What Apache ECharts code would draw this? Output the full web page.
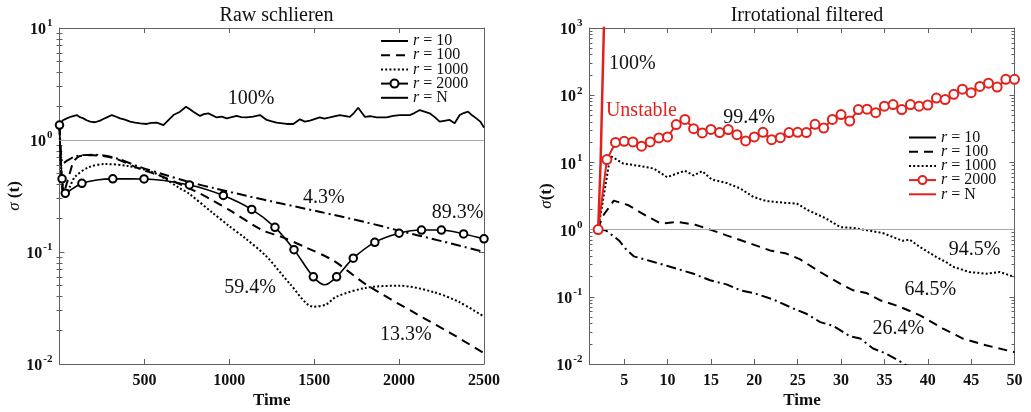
<!DOCTYPE html>
<html>
<head>
<meta charset="utf-8">
<script src="https://cdn.jsdelivr.net/npm/echarts@6/dist/echarts.min.js"></script>
<style>
html,body{margin:0;padding:0;background:#fff;}
#chart{width:1031px;height:412px;}
</style>
</head>
<body>
<div id="chart"></div>
<script>
// ---------------- DATA ----------------
const titles = ['Raw schlieren', 'Irrotational filtered'];
const legendNames = ['r = 10', 'r = 100', 'r = 1000', 'r = 2000', 'r = N'];
const xTicksRaw = [500, 1000, 1500, 2000, 2500];
const xTicksIrr = [5, 10, 15, 20, 25, 30, 35, 40, 45, 50];

// Left panel: Raw schlieren
const rawN_t = [0,20,43,70,102,120,141,160,181,210,239,270,308,330,357,385,416,445,475,514,540,573,612,640,671,710,745,768,788,828,850,877,926,955,985,1043,1070,1102,1140,1181,1220,1250,1279,1338,1377,1416,1445,1475,1533,1560,1592,1651,1710,1735,1759,1798,1830,1867,1926,1965,2004,2063,2090,2122,2180,2210,2239,2298,2327,2357,2380,2406,2430,2455,2480,2500];
const rawN_v = [1.36,1.50,1.56,1.62,1.67,1.60,1.56,1.50,1.46,1.44,1.49,1.57,1.67,1.62,1.56,1.52,1.46,1.43,1.41,1.39,1.42,1.43,1.36,1.50,1.67,1.79,1.98,1.88,1.79,1.64,1.70,1.73,1.59,1.62,1.56,1.64,1.60,1.59,1.62,1.67,1.51,1.47,1.43,1.39,1.39,1.53,1.46,1.49,1.59,1.55,1.59,1.67,1.61,1.75,1.94,1.61,1.63,1.59,1.59,1.64,1.67,1.67,1.74,1.85,1.73,1.60,1.46,1.51,1.41,1.67,1.74,1.79,1.66,1.56,1.45,1.29];

const raw10_t = [0,8,20,50,100,200,330,465,620,765,916,1100,1300,1530,1800,2000,2250,2500];
const raw10_v = [1.36,0.8,0.62,0.66,0.72,0.74,0.69,0.58,0.49,0.42,0.37,0.318,0.272,0.229,0.185,0.155,0.125,0.10];

const raw100_t = [0,8,22,45,63,83,120,200,330,465,622,798,900,1004,1200,1300,1450,1612,1808,2102,2300,2500];
const raw100_v = [1.36,0.6,0.33,0.42,0.52,0.64,0.72,0.73,0.68,0.56,0.46,0.35,0.29,0.235,0.155,0.138,0.11,0.084,0.051,0.028,0.019,0.0125];

const raw1000_t = [0,10,34,60,92,171,269,406,563,710,759,900,1000,1093,1220,1357,1495,1570,1632,1808,2004,2200,2350,2500];
const raw1000_v = [1.36,0.55,0.32,0.38,0.47,0.57,0.61,0.585,0.505,0.37,0.335,0.225,0.17,0.133,0.091,0.052,0.0325,0.034,0.04,0.048,0.05,0.044,0.036,0.0265];

const raw2000_t = [0,15,34,80,132,220,314,498,765,965,1132,1269,1381,1495,1563,1632,1730,1857,2000,2132,2249,2380,2500];
const raw2000_v = [1.36,0.45,0.334,0.37,0.41,0.44,0.45,0.449,0.397,0.32,0.24,0.166,0.105,0.06,0.051,0.06,0.088,0.122,0.147,0.157,0.157,0.145,0.131];
const raw2000_markerT = [0,15,34,132,314,498,765,965,1132,1269,1381,1495,1632,1730,1857,2000,2132,2249,2380,2500];

const rawNotes = ['100%','4.3%','89.3%','59.4%','13.3%'];
const rawNotes_t = [1128,1557,2345,1122,2040];
const rawNotes_v = [2.32,0.303,0.223,0.0478,0.0181];

// Right panel: Irrotational filtered
const irrN_t = [2,2.28,2.5,2.66,2.8];
const irrN_v = [1,10,150,1000,3000];

const irr10_t = [2,2.85,4.4,5.15,6.1,8.4,10.3,13,14.9,16.8,18.4,19.9,22.2,24.5,26,27.6,29.1,31,32.2,33.7,35.2,37.3,38];
const irr10_v = [1,0.98,0.69,0.52,0.40,0.33,0.28,0.22,0.176,0.153,0.125,0.114,0.091,0.067,0.056,0.042,0.037,0.026,0.024,0.017,0.0143,0.01,0.0085];

const irr100_t = [2,2.46,3.8,5.5,7.45,9.2,11.1,13.2,14.9,16.8,19.1,21.8,23.7,25.3,27.6,29.9,31.4,32.9,34.5,36.8,39.1,41.7,44,46.7,50];
const irr100_v = [1,1.54,2.7,2.3,1.63,1.23,1.3,1.18,1.0,0.82,0.65,0.49,0.44,0.36,0.234,0.157,0.125,0.114,0.089,0.071,0.053,0.034,0.024,0.019,0.015];

const irr1000_t = [2,3.4,4.9,6.9,8.4,9.94,12,13,14,15.1,16.8,18.4,19.9,21.4,23.7,24.9,26.2,28.3,29.9,31.4,34.8,37.1,37.9,39.1,41,42.1,42.9,44.8,46.7,48.3,50];
const irr1000_v = [1,12.5,9.6,8.8,8.1,6.05,7.5,6.4,7.4,5.55,4.95,4.08,3.06,2.66,2.49,2.44,1.94,1.46,1.09,1.06,0.89,0.68,0.71,0.55,0.39,0.33,0.28,0.234,0.22,0.234,0.197];

const irr2000_t = [2,3,4,5,6,7,8,9,10,11,12,13,14,15,16,17,18,19,20,21,22,23,24,25,26,27,28,29,30,31,32,33,34,35,36,37,38,39,40,41,42,43,44,45,46,47,48,49,50];
const irr2000_v = [1,11.0,19.8,20.6,20.2,17.4,20.2,23.1,23.9,36.6,43.6,31.8,27.4,31.0,27.8,30.8,25.9,20.9,23.9,28.0,21.8,23.3,27.8,28.0,27.8,36.9,32.5,43.6,51.5,41.3,61.1,61.9,55.0,68.6,72.5,61.1,72.5,68.6,71.5,90.8,86.0,103,123,109,135,151,132,172,172];

const irrNotes = ['100%','Unstable','99.4%','94.5%','64.5%','26.4%'];
const irrNotes_t = [5.95,6.99,19.4,45.4,40.3,36.6];
const irrNotes_v = [298,59.6,46.9,0.509,0.129,0.034];

// ---------------- STYLE / BUILD ----------------
const FONT = '"Liberation Serif", "Times New Roman", serif';
const RED = '#e3211c';
const AXC = '#606060';
const DASHDOT = [10,4,2,4];
const DASH = [9,6];
const DOT = [2,2.2];

const zip = (t, v) => t.map((x, i) => [x, v[i]]);

// minor log ticks (2..9 x 10^k) inside [lo, hi]
function minorLogTicks(lo, hi) {
  const out = [];
  for (let k = Math.round(Math.log10(lo)); k < Math.round(Math.log10(hi)); k++) {
    for (let m = 2; m <= 9; m++) out.push(+(m * Math.pow(10, k)).toPrecision(3));
  }
  return out;
}

function supLabel(v) {
  const e = Math.round(Math.log10(v));
  return '{b|10}{e|' + e + '}';
}
const yRich = {
  b: {fontFamily: FONT, fontWeight: 'bold', fontSize: 16, color: '#111', lineHeight: 20, verticalAlign: 'bottom'},
  e: {fontFamily: FONT, fontWeight: 'bold', fontSize: 11, color: '#111', lineHeight: 20, verticalAlign: 'top', padding: [0,0,0,1]}
};

function legendFmt(name) {
  const base = name.split(' (')[0];
  return '{i|r}{n|' + base.slice(1) + '}';
}
const legendRich = {
  i: {fontFamily: FONT, fontStyle: 'italic', fontSize: 16, color: '#111', lineHeight: 14},
  n: {fontFamily: FONT, fontSize: 16, color: '#111', lineHeight: 14}
};

const grids = [
  {left: 59.5, right: 547, top: 28, bottom: 48, containLabel: false, outerBoundsMode: 'none'},
  {left: 589.5, right: 16.5, top: 28, bottom: 48, containLabel: false, outerBoundsMode: 'none'}
];

function xAx(gi, min, max, ticks, top) {
  const o = {
    type: 'value', gridIndex: gi, min: min, max: max,
    position: top ? 'top' : 'bottom',
    axisLine: {show: true, onZero: false, lineStyle: {color: AXC, width: 1}},
    axisTick: {show: true, inside: true, length: 5, customValues: ticks, lineStyle: {color: AXC}},
    axisLabel: {show: !top, customValues: ticks, formatter: v => String(v),
      fontFamily: FONT, fontWeight: 'bold', fontSize: 16, color: '#111', margin: 9},
    splitLine: {show: false}
  };
  if (!top) {
    o.name = 'Time';
    o.nameLocation = 'middle';
    o.nameGap = 28;
    o.nameMoveOverlap = false;
    o.nameTextStyle = {fontFamily: FONT, fontWeight: 'bold', fontSize: 17, color: '#111'};
  }
  return o;
}
function yAx(gi, min, max, right, name, gap) {
  const o = {
    type: 'log', logBase: 10, gridIndex: gi, min: min, max: max,
    position: right ? 'right' : 'left',
    axisLine: {show: true, onZero: false, lineStyle: {color: AXC, width: 1}},
    axisTick: {show: true, inside: true, length: 5, lineStyle: {color: AXC}},
    axisLabel: {show: !right, formatter: supLabel, rich: yRich, margin: 7},
    splitLine: {show: false}
  };
  if (!right) {
    o.name = name;
    o.nameLocation = 'middle';
    o.nameGap = gap;
    o.nameMoveOverlap = false;
    o.nameTextStyle = {
      fontFamily: FONT, fontSize: 17, color: '#111',
      rich: {
        s: {fontFamily: FONT, fontStyle: 'italic', fontSize: 17, color: '#111'},
        t: {fontFamily: FONT, fontWeight: 'bold', fontSize: 17, color: '#111'}
      }
    };
  }
  return o;
}
function yMinorAx(gi, min, max, right) {
  return {
    type: 'log', logBase: 10, gridIndex: gi, min: min, max: max,
    position: right ? 'right' : 'left', offset: 0,
    axisLine: {show: false},
    axisTick: {show: true, inside: true, length: 3, customValues: minorLogTicks(min, max), lineStyle: {color: AXC}},
    axisLabel: {show: false},
    splitLine: {show: false}
  };
}

function lineSeries(name, xi, yi, data, color, width, type, smooth, extra) {
  return Object.assign({
    name: name, type: 'line', xAxisIndex: xi, yAxisIndex: yi,
    data: data, symbol: 'none', smooth: smooth, clip: true,
    lineStyle: {color: color, width: width, type: type},
    itemStyle: {color: color},
    emphasis: {disabled: true}, animation: false
  }, extra || {});
}

function noteSeries(xi, yi, texts, t, v) {
  return {
    type: 'scatter', xAxisIndex: xi, yAxisIndex: yi, symbolSize: 0,
    itemStyle: {color: 'rgba(0,0,0,0)'}, silent: true, animation: false, clip: false, z: 10,
    data: texts.map((s, i) => ({
      value: [t[i], v[i]],
      label: {
        show: true, formatter: s, position: 'inside', opacity: 1,
        fontFamily: FONT, fontSize: 20,
        color: s === 'Unstable' ? RED : '#111'
      }
    }))
  };
}

const L = ' (raw)', R = ' (irr)';

const raw2000Data = raw2000_t.map((t, i) => {
  const isMarker = raw2000_markerT.indexOf(t) >= 0;
  return isMarker ? [t, raw2000_v[i]] : {value: [t, raw2000_v[i]], symbol: 'none'};
});

const refLine = {silent: true, symbol: 'none', label: {show: false}, animation: false,
  lineStyle: {color: '#a8a8a8', width: 1, type: 'solid'}, data: [{yAxis: 1}]};

const series = [
  // left
  lineSeries(legendNames[4] + L, 0, 0, zip(rawN_t, rawN_v), '#000', 1.8, 'solid', false, {markLine: refLine}),
  lineSeries(legendNames[0] + L, 0, 0, zip(raw10_t, raw10_v), '#000', 2, DASHDOT, 0.3),
  lineSeries(legendNames[1] + L, 0, 0, zip(raw100_t, raw100_v), '#000', 2, DASH, 0.3),
  lineSeries(legendNames[2] + L, 0, 0, zip(raw1000_t, raw1000_v), '#000', 2, DOT, 0.3),
  lineSeries(legendNames[3] + L, 0, 0, raw2000Data, '#000', 1.6, 'solid', 0.3, {
    symbol: 'emptyCircle', symbolSize: 7.5, showSymbol: true, showAllSymbol: true,
    itemStyle: {color: '#000', borderWidth: 1}
  }),
  noteSeries(0, 0, rawNotes, rawNotes_t, rawNotes_v),
  // right
  lineSeries(legendNames[0] + R, 2, 4, zip(irr10_t, irr10_v), '#000', 2, DASHDOT, false, {markLine: refLine}),
  lineSeries(legendNames[1] + R, 2, 4, zip(irr100_t, irr100_v), '#000', 2, DASH, false),
  lineSeries(legendNames[2] + R, 2, 4, zip(irr1000_t, irr1000_v), '#000', 2, DOT, false),
  lineSeries(legendNames[3] + R, 2, 4, zip(irr2000_t, irr2000_v), RED, 2, 'solid', false, {
    symbol: 'emptyCircle', symbolSize: 9, showSymbol: true, showAllSymbol: true, z: 5,
    itemStyle: {color: RED, borderWidth: 2}
  }),
  lineSeries(legendNames[4] + R, 2, 4, zip(irrN_t, irrN_v), RED, 2.5, 'solid', false, {z: 4}),
  noteSeries(2, 4, irrNotes, irrNotes_t, irrNotes_v)
];

function legendData(suffix) {
  return legendNames.map((n, i) => {
    const item = {name: n + suffix};
    if (i === 0) item.lineStyle = {type: 'solid'};
    if (i !== 3) item.itemStyle = {opacity: 0};
    return item;
  });
}
function legendOf(suffix, left, top) {
  return {
    orient: 'vertical', left: left, top: top, padding: 0,
    itemWidth: 27, itemHeight: 10, itemGap: -1.8,
    data: legendData(suffix), selectedMode: false,
    formatter: legendFmt,
    textStyle: {fontFamily: FONT, fontSize: 16, color: '#111', lineHeight: 14, rich: legendRich}
  };
}

const option = {
  animation: false,
  backgroundColor: '#fff',
  title: [
    {text: titles[0], left: 271.5, top: 1, textAlign: 'center',
      textStyle: {fontFamily: FONT, fontWeight: 'normal', fontSize: 20, color: '#111'}},
    {text: titles[1], left: 802, top: 1, textAlign: 'center',
      textStyle: {fontFamily: FONT, fontWeight: 'normal', fontSize: 20, color: '#111'}}
  ],
  legend: [legendOf(L, 380, 33), legendOf(R, 908, 129.5)],
  grid: grids,
  xAxis: [
    xAx(0, 0, 2500, xTicksRaw, false),
    xAx(0, 0, 2500, xTicksRaw, true),
    xAx(1, 1, 50, xTicksIrr, false),
    xAx(1, 1, 50, xTicksIrr, true)
  ],
  yAxis: [
    yAx(0, 0.01, 10, false, '{s|σ} {t|(t)}', 36),
    yAx(0, 0.01, 10, true),
    yMinorAx(0, 0.01, 10, false),
    yMinorAx(0, 0.01, 10, true),
    yAx(1, 0.01, 1000, false, '{s|σ}{t|(t)}', 34),
    yAx(1, 0.01, 1000, true),
    yMinorAx(1, 0.01, 1000, false),
    yMinorAx(1, 0.01, 1000, true)
  ],
  series: series
};

const chart = echarts.init(document.getElementById('chart'), null, {renderer: 'canvas'});
chart.setOption(option);
</script>
</body>
</html>
